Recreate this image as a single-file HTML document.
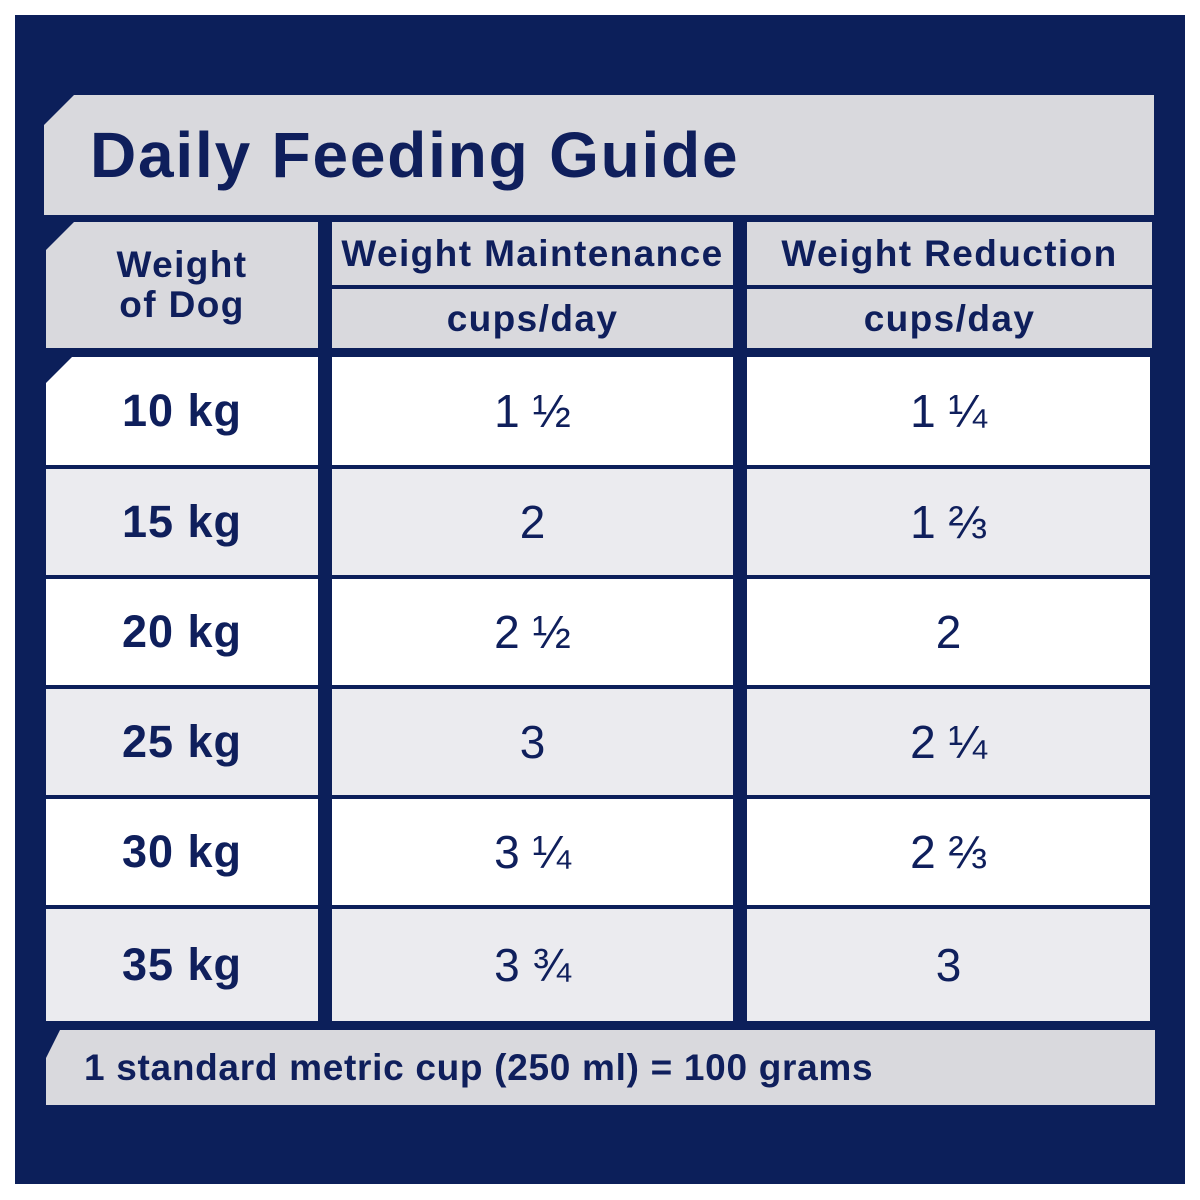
<!DOCTYPE html>
<html><head><style>
body{margin:0;width:1200px;height:1200px;background:#fff;position:relative;overflow:hidden;font-family:"Liberation Sans",sans-serif;color:#0f1f5c;font-weight:bold}
.n{position:absolute;left:15px;top:15px;width:1170px;height:1169px;background:#0c1f5a}
.b{position:absolute;display:flex;align-items:center;justify-content:center;text-align:center}
.g{background:#d9d9dd}.w{background:#fff}.l{background:#ebebef}
.t{font-size:64px;letter-spacing:1.8px;justify-content:flex-start;padding-left:46px;box-sizing:border-box}
.h{font-size:37px;letter-spacing:1.4px}
.k{font-size:45px;letter-spacing:1px}
.v{font-size:46px;font-weight:normal}
</style></head><body>
<div class="n"></div>
<div class="b g t" style="left:44px;top:95px;width:1110px;height:120px;clip-path:polygon(30px 0,100% 0,100% 100%,0 100%,0 30px)">Daily Feeding Guide</div>
<div class="b g h" style="left:46px;top:222px;width:272px;height:126px;line-height:40px;clip-path:polygon(28px 0,100% 0,100% 100%,0 100%,0 28px)">Weight<br>of Dog</div>
<div class="b g h" style="left:332px;top:222px;width:401px;height:63px">Weight Maintenance</div>
<div class="b g h" style="left:332px;top:289px;width:401px;height:59px">cups/day</div>
<div class="b g h" style="left:747px;top:222px;width:405px;height:63px">Weight Reduction</div>
<div class="b g h" style="left:747px;top:289px;width:405px;height:59px">cups/day</div>

<div class="b w k" style="left:46px;top:357px;width:272px;height:108px;clip-path:polygon(26px 0,100% 0,100% 100%,0 100%,0 26px)">10 kg</div>
<div class="b w v" style="left:332px;top:357px;width:401px;height:108px">1 ½</div>
<div class="b w v" style="left:747px;top:357px;width:403px;height:108px">1 ¼</div>

<div class="b l k" style="left:46px;top:469px;width:272px;height:106px">15 kg</div>
<div class="b l v" style="left:332px;top:469px;width:401px;height:106px">2</div>
<div class="b l v" style="left:747px;top:469px;width:403px;height:106px">1 ⅔</div>

<div class="b w k" style="left:46px;top:579px;width:272px;height:106px">20 kg</div>
<div class="b w v" style="left:332px;top:579px;width:401px;height:106px">2 ½</div>
<div class="b w v" style="left:747px;top:579px;width:403px;height:106px">2</div>

<div class="b l k" style="left:46px;top:689px;width:272px;height:106px">25 kg</div>
<div class="b l v" style="left:332px;top:689px;width:401px;height:106px">3</div>
<div class="b l v" style="left:747px;top:689px;width:403px;height:106px">2 ¼</div>

<div class="b w k" style="left:46px;top:799px;width:272px;height:106px">30 kg</div>
<div class="b w v" style="left:332px;top:799px;width:401px;height:106px">3 ¼</div>
<div class="b w v" style="left:747px;top:799px;width:403px;height:106px">2 ⅔</div>

<div class="b l k" style="left:46px;top:909px;width:272px;height:112px">35 kg</div>
<div class="b l v" style="left:332px;top:909px;width:401px;height:112px">3 ¾</div>
<div class="b l v" style="left:747px;top:909px;width:403px;height:112px">3</div>

<div class="b g" style="left:46px;top:1030px;width:1109px;height:75px;justify-content:flex-start;padding-left:38px;box-sizing:border-box;font-size:37px;letter-spacing:0.7px;clip-path:polygon(14px 0,100% 0,100% 100%,0 100%,0 28px)">1 standard metric cup (250 ml) = 100 grams</div>
</body></html>
